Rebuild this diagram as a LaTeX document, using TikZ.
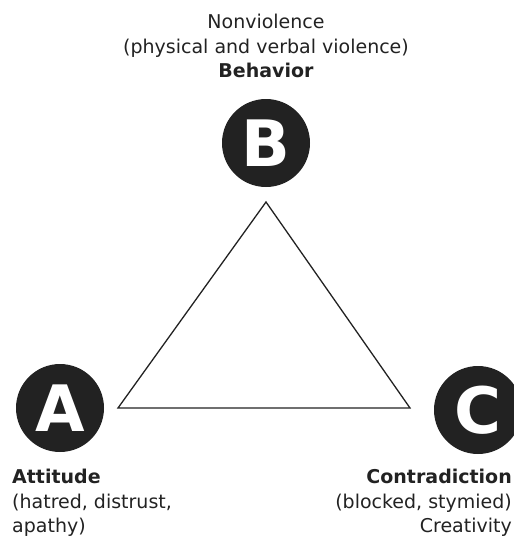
\documentclass[tikz,border=0pt]{standalone}
\usepackage{fontspec}
\setmainfont{DejaVu Sans}
\definecolor{ink}{HTML}{222222}
\begin{document}
\begin{tikzpicture}[x=1pt,y=-1pt,
  badge/.style={circle,fill=ink,minimum size=88pt,inner sep=0pt,text=white,font=\bfseries\fontsize{64}{64}\selectfont},
  lbl/.style={inner sep=0pt,text=ink,font=\fontsize{19}{24.5}\selectfont}]
\path[use as bounding box] (0,0) rectangle (514,542);
\clip (0,0) rectangle (514,542);
\node[badge] (B) at (266,143) {B};
\node[badge] (A) at (60,408) {A};
\node[badge] (C) at (478,410) {C};
\coordinate (tb) at (266,202);
\coordinate (ta) at (118,408);
\coordinate (tc) at (410,408);
\draw[line width=1.3pt,ink,line join=miter] (tb) -- (ta) -- (tc) -- cycle;
\node[lbl,align=center,anchor=north] (top) at (266,14) {Nonviolence\\(physical and verbal violence)\\\textbf{Behavior}};
\node[lbl,align=left,anchor=north west] (la) at (12,469) {\textbf{Attitude}\\(hatred, distrust,\\apathy)};
\node[lbl,align=right,anchor=north east] (lc) at (512,469) {\textbf{Contradiction}\\(blocked, stymied)\\Creativity};
\end{tikzpicture}
\end{document}
